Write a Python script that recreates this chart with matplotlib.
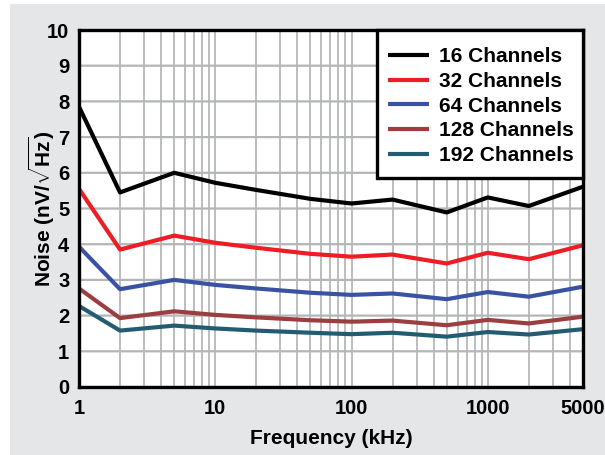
import matplotlib.pyplot as plt
from matplotlib.patches import Rectangle

plt.rcParams['font.family'] = ['Liberation Sans', 'DejaVu Sans']
plt.rcParams['font.weight'] = 'bold'
plt.rcParams['mathtext.fontset'] = 'custom'
plt.rcParams['mathtext.rm'] = 'Liberation Sans:bold'
plt.rcParams['mathtext.bf'] = 'Liberation Sans:bold'

freq = [1, 2, 5, 10, 20, 50, 100, 200, 500, 1000, 2000, 5000]
ch16 = [7.85, 5.45, 6.0, 5.72, 5.52, 5.27, 5.14, 5.25, 4.89, 5.31, 5.07, 5.61]
ch32 = [5.55, 3.85, 4.24, 4.04, 3.9, 3.73, 3.65, 3.71, 3.46, 3.76, 3.58, 3.97]
ch64 = [3.93, 2.74, 3.0, 2.86, 2.76, 2.64, 2.58, 2.62, 2.46, 2.66, 2.53, 2.81]
ch128 = [2.76, 1.93, 2.12, 2.02, 1.95, 1.87, 1.83, 1.86, 1.73, 1.88, 1.78, 1.97]
ch192 = [2.27, 1.58, 1.72, 1.64, 1.58, 1.52, 1.48, 1.52, 1.41, 1.54, 1.47, 1.62]
yticks = list(range(0, 11))

series = [
    (ch16, '16 Channels', '#000000'),
    (ch32, '32 Channels', '#ee1c25'),
    (ch64, '64 Channels', '#3a52a3'),
    (ch128, '128 Channels', '#9c3e40'),
    (ch192, '192 Channels', '#235c72'),
]

W, H = 605, 455
fig = plt.figure(figsize=(W / 100, H / 100), dpi=100)
fig.patch.set_facecolor('white')
fig.patches.append(Rectangle((10 / W, 0), 1, 1 - 4 / H, transform=fig.transFigure,
                             facecolor='#e5e6e8', edgecolor='none', zorder=-10))

# axes box in pixels: left 79, right 583, top 30, bottom 387
x0, x1, y0, y1 = 79, 583, 30, 387
ax = fig.add_axes([x0 / W, 1 - y1 / H, (x1 - x0) / W, (y1 - y0) / H])
ax.set_facecolor('white')

for vals, label, color in series:
    ax.plot(freq, vals, color=color, lw=3, label=label, solid_capstyle='butt', zorder=3)

ax.set_xscale('log')
ax.set_xlim(1, 5000)
ax.set_ylim(0, 10)
ax.set_yticks(yticks)
ax.set_xticks([1, 10, 100, 1000, 5000])
ax.set_xticklabels(['1', '10', '100', '1000', '5000'])
ax.xaxis.grid(True, which='both', color='#bcbdbf', lw=1.4)
# horizontal grid lines across the full width
ax.hlines(yticks, 1, 5000, colors='#b4b5b7', lw=1.6, zorder=2, snap=False)
ax.tick_params(which='both', length=0, labelsize=14.5, pad=9)
ax.tick_params(axis='y', pad=7)
for s in ax.spines.values():
    s.set_linewidth(2.4)
    s.set_zorder(5)

ax.set_xlabel('Frequency (kHz)', fontsize=15, fontweight='bold', va='center')
ax.set_ylabel(r'Noise (nV/$\sqrt{\mathrm{Hz}}$)', fontsize=15, fontweight='bold', va='center')
ax.xaxis.set_label_coords(0.5, (y1 - 438) / (y1 - y0))
ax.yaxis.set_label_coords((42 - x0) / (x1 - x0), 0.5)

# legend box 377..583 x 30..178 px
ax.add_patch(Rectangle(((377 - x0) / (x1 - x0), (y1 - 178) / (y1 - y0)),
                       (583 - 377) / (x1 - x0), (178 - 30) / (y1 - y0),
                       transform=ax.transAxes, facecolor='white', edgecolor='black',
                       lw=2.4, zorder=6, clip_on=False))
leg = ax.legend(loc='upper left', bbox_to_anchor=((388 - x0) / (x1 - x0), (y1 - 47) / (y1 - y0)),
                fontsize=15, handlelength=1.95, handletextpad=0.5, labelspacing=0.28,
                borderpad=0, borderaxespad=0, frameon=False)
leg.set_zorder(7)

fig.savefig('out.png', dpi=100, facecolor=fig.get_facecolor())
